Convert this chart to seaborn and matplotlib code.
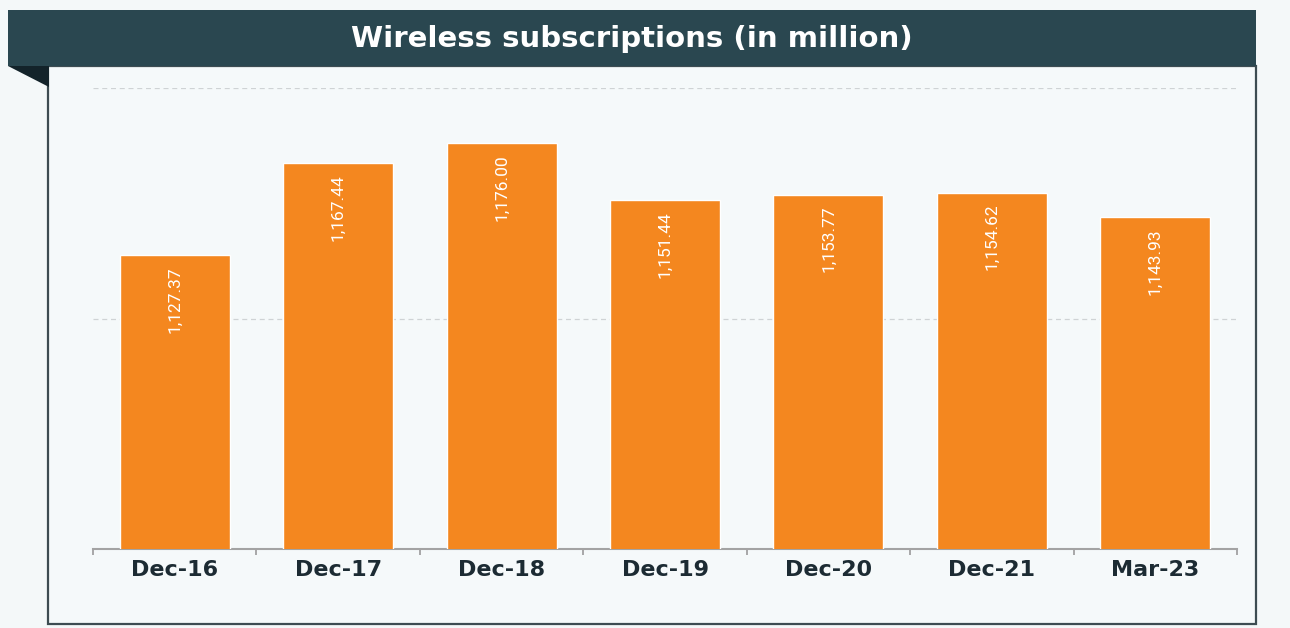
import numpy as np
import pandas as pd
import matplotlib
matplotlib.use('Agg')
import matplotlib.pyplot as plt
from matplotlib.patches import Rectangle, Polygon
import seaborn as sns

# data
periods = ['Dec-16', 'Dec-17', 'Dec-18', 'Dec-19', 'Dec-20', 'Dec-21', 'Mar-23']
subscriptions = [1127.37, 1167.44, 1176.00, 1151.44, 1153.77, 1154.62, 1143.93]
title = 'Wireless subscriptions (in million)'

df = pd.DataFrame({'period': periods, 'subs': subscriptions})

sns.set_theme(style='white')
plt.rcParams['font.family'] = ['DejaVu Sans']

W, H = 1290, 628
bg = '#f4f8f9'
fig = plt.figure(figsize=(W / 100, H / 100), dpi=100, facecolor=bg)


def fx(px):
    return px / W


def fy(py):
    # pixel rows counted from the top
    return 1 - py / H


# panel with border
fig.patches.append(Rectangle((fx(48), fy(624)), fx(1256 - 48), (624 - 66) / H,
                             transform=fig.transFigure, facecolor='#f5f9fa',
                             edgecolor='#3d4c52', linewidth=1.6, zorder=-2))
# title banner
fig.patches.append(Rectangle((fx(8), fy(66)), fx(1256 - 8), (66 - 10) / H,
                             transform=fig.transFigure, facecolor='#2a4750',
                             edgecolor='none', zorder=-1))
# folded corner
fig.patches.append(Polygon([(fx(8), fy(66)), (fx(49), fy(66)), (fx(49), fy(87))],
                           closed=True, transform=fig.transFigure,
                           facecolor='#13232a', edgecolor='none', zorder=-1))
fig.text(fx(632), fy(39), title, color='white', fontsize=21, fontweight='bold',
         ha='center', va='center', zorder=2)

ax = fig.add_axes([fx(93), fy(549), fx(1237 - 93), (549 - 88) / H])
ax.set_zorder(5)
ax.set_facecolor('none')

sns.barplot(data=df, x='period', y='subs', color='#f4871f', saturation=1,
            width=0.673, ax=ax, zorder=3)

ax.set_ylim(1000, 1200)
ax.set_xlim(-0.5, len(periods) - 0.5)
ax.set_yticks([1100, 1200])
ax.set_yticklabels([])
ax.yaxis.grid(True, linestyle=(0, (4, 3)), color='#cfd3d5', linewidth=0.9)
ax.tick_params(axis='y', length=0)

ax.set_xticks(np.arange(-0.5, len(periods)), minor=True)
ax.tick_params(axis='x', which='minor', length=4, color='#9a9a9a', width=1.2, bottom=True)
ax.tick_params(axis='x', which='major', length=0, pad=8, labelsize=16, labelcolor='#1c2b33')
for lbl in ax.get_xticklabels():
    lbl.set_fontweight('bold')

for side in ['top', 'right', 'left']:
    ax.spines[side].set_visible(False)
ax.spines['bottom'].set_color('#a3a3a3')
ax.spines['bottom'].set_linewidth(1.5)
ax.set_xlabel('')
ax.set_ylabel('')

for i, v in enumerate(subscriptions):
    ax.annotate(f'{v:,.2f}', xy=(i, v), xytext=(0, -8), textcoords='offset points',
                rotation=90, ha='center', va='top', color='white',
                fontsize=12.5, family=['Roboto', 'DejaVu Sans'], zorder=4)

fig.savefig('out.png', dpi=100, facecolor=bg)
